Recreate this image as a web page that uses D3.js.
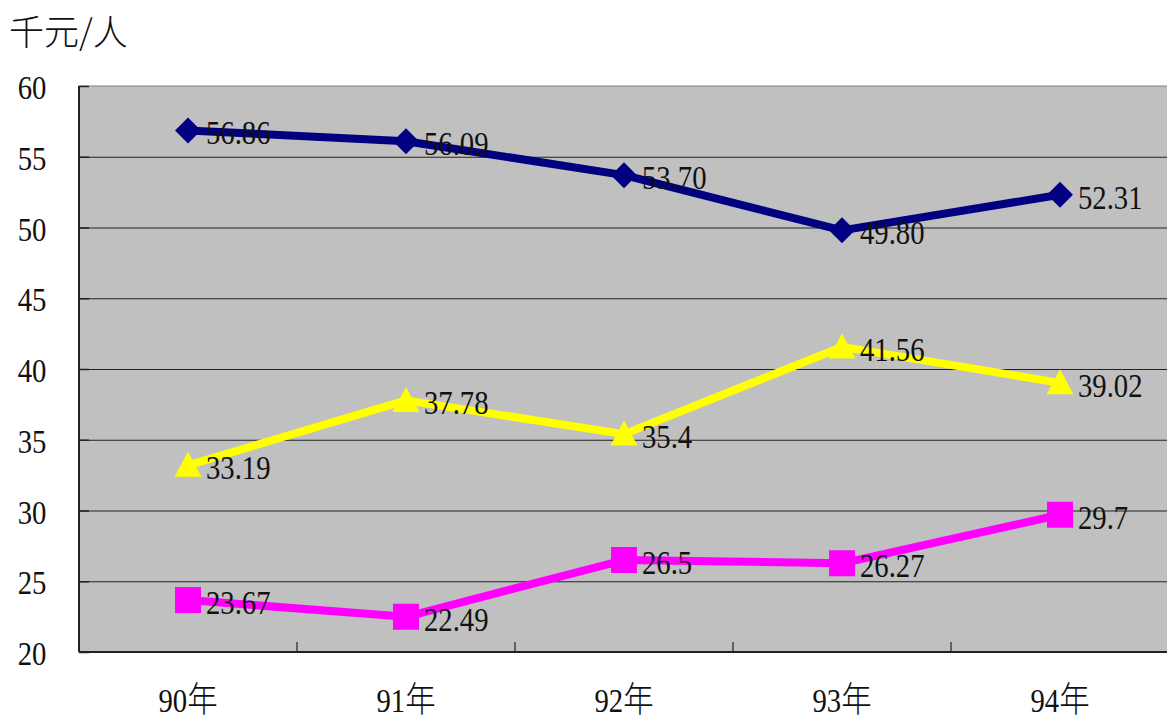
<!DOCTYPE html>
<html>
<head>
<meta charset="utf-8">
<script src="https://cdn.jsdelivr.net/npm/d3@7"></script>
<style>
  body { margin: 0; background: #fff; }
  text { font-family: "Liberation Serif", "DejaVu Serif", serif; fill: #111; }
  .cjk { font-family: "Noto Sans CJK TC", "Noto Sans CJK SC", sans-serif; font-weight: 300; }
</style>
</head>
<body>
<svg id="chart" width="1167" height="716"></svg>
<script>
var years = ["90年", "91年", "92年", "93年", "94年"];
var yTicks = [20, 25, 30, 35, 40, 45, 50, 55, 60];
var navyVals = [56.86, 56.09, 53.70, 49.80, 52.31];
var navyLabels = ["56.86", "56.09", "53.70", "49.80", "52.31"];
var yellowVals = [33.19, 37.78, 35.4, 41.56, 39.02];
var yellowLabels = ["33.19", "37.78", "35.4", "41.56", "39.02"];
var pinkVals = [23.67, 22.49, 26.5, 26.27, 29.7];
var pinkLabels = ["23.67", "22.49", "26.5", "26.27", "29.7"];

var svg = d3.select("#chart");
var pLeft = 79, pTop = 86, pRight = 1169, pBottom = 652;
var squeeze = 0.87;   // the original font is a narrow serif

var x = d3.scaleBand().domain(years).range([pLeft, pRight]);
var y = d3.scaleLinear().domain([20, 60]).range([pBottom, pTop]);

function at(px, py) { return "translate(" + px + "," + py + ") scale(" + squeeze + ",1)"; }

// plot area
svg.append("rect")
    .attr("x", pLeft).attr("y", pTop)
    .attr("width", pRight - pLeft).attr("height", pBottom - pTop)
    .attr("fill", "#c0c0c0")
    .attr("stroke", "#808080")
    .attr("stroke-width", 1);

// gridlines
svg.append("g")
  .selectAll("line")
  .data(yTicks.slice(1, -1))
  .enter().append("line")
    .attr("x1", pLeft).attr("x2", pRight)
    .attr("y1", function(d) { return y(d) + 0.5; })
    .attr("y2", function(d) { return y(d) + 0.5; })
    .attr("stroke", "#222")
    .attr("stroke-width", 1);

// y axis
var yAxis = svg.append("g").attr("transform", "translate(" + pLeft + ",0)")
    .call(d3.axisRight(y).tickValues(yTicks).tickSize(10).tickFormat(""));
yAxis.select(".domain").remove();
yAxis.selectAll("line").attr("stroke", "#222").attr("stroke-width", 1.5);
svg.append("line")
    .attr("x1", pLeft).attr("x2", pLeft).attr("y1", pTop).attr("y2", pBottom)
    .attr("stroke", "#222").attr("stroke-width", 2);

svg.append("g")
  .selectAll("text")
  .data(yTicks)
  .enter().append("text")
    .attr("transform", function(d) { return at(32, y(d) + 13); })
    .attr("text-anchor", "middle")
    .attr("font-size", 33)
    .text(function(d) { return d; });

// x axis
var xBounds = years.slice(1).map(function(d) { return x(d); });
svg.append("g")
  .selectAll("line")
  .data(xBounds)
  .enter().append("line")
    .attr("x1", function(d) { return d; }).attr("x2", function(d) { return d; })
    .attr("y1", pBottom).attr("y2", pBottom - 10)
    .attr("stroke", "#222").attr("stroke-width", 1.2);
svg.append("line")
    .attr("x1", pLeft).attr("x2", pRight).attr("y1", pBottom).attr("y2", pBottom)
    .attr("stroke", "#222").attr("stroke-width", 2);

var xl = svg.append("g")
  .selectAll("text")
  .data(years)
  .enter().append("text")
    .attr("transform", function(d) { return at(x(d) + x.bandwidth() / 2, 712); })
    .attr("text-anchor", "middle")
    .attr("font-size", 33);
xl.append("tspan").text(function(d) { return d.slice(0, 2); });
xl.append("tspan").attr("class", "cjk").attr("font-size", 35).text(function(d) { return d.slice(2); });

// unit label
svg.append("text")
    .attr("class", "cjk")
    .attr("x", 9).attr("y", 45)
    .attr("font-size", 35)
    .text("千元/人");

var cx = function(i) { return x(years[i]) + x.bandwidth() / 2; };

function drawSeries(vals, labels, color, symbol, size) {
  var line = d3.line()
      .x(function(d, i) { return cx(i); })
      .y(function(d) { return y(d); });
  svg.append("path")
      .datum(vals)
      .attr("fill", "none")
      .attr("stroke", color)
      .attr("stroke-width", 8)
      .attr("stroke-linejoin", "round")
      .attr("d", line);
  svg.append("g")
    .selectAll("path")
    .data(vals)
    .enter().append("path")
      .attr("transform", function(d, i) { return "translate(" + cx(i) + "," + y(d) + ")"; })
      .attr("d", d3.symbol().type(symbol).size(size))
      .attr("fill", color);
  svg.append("g")
    .selectAll("text")
    .data(vals)
    .enter().append("text")
      .attr("transform", function(d, i) { return at(cx(i) + 18, y(d) + 14); })
      .attr("font-size", 33)
      .text(function(d, i) { return labels[i]; });
}

var diamond = {
  draw: function(ctx, size) {
    var r = Math.sqrt(size) / 2;
    ctx.moveTo(0, -r); ctx.lineTo(r, 0); ctx.lineTo(0, r); ctx.lineTo(-r, 0); ctx.closePath();
  }
};
var square = {
  draw: function(ctx, size) {
    var r = Math.sqrt(size) / 2;
    ctx.rect(-r, -r, 2 * r, 2 * r);
  }
};
var triangle = {
  draw: function(ctx, size) {
    var r = Math.sqrt(size) / 2;
    ctx.moveTo(0, -r); ctx.lineTo(r, r * 0.85); ctx.lineTo(-r, r * 0.85); ctx.closePath();
  }
};

drawSeries(navyVals, navyLabels, "#000080", diamond, 26 * 26);
drawSeries(pinkVals, pinkLabels, "#ff00ff", square, 26 * 26);
drawSeries(yellowVals, yellowLabels, "#ffff00", triangle, 27 * 27);
</script>
</body>
</html>
